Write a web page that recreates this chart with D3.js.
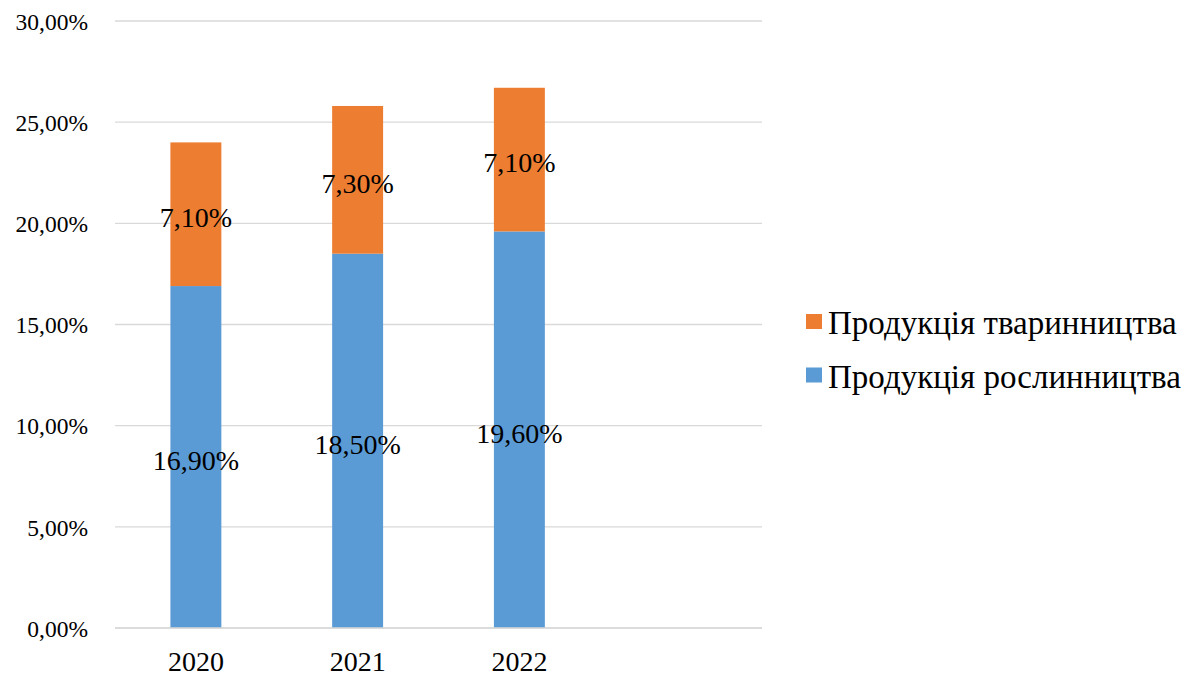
<!DOCTYPE html>
<html><head><meta charset="utf-8">
<script src="https://cdn.jsdelivr.net/npm/d3@7"></script>
</head><body><svg id="c" width="1187" height="677"></svg>
<script>
const categories = ["2020","2021","2022",""];
const plantValues = [16.9, 18.5, 19.6];
const animalValues = [7.1, 7.3, 7.1];
const seriesNames = ["Продукція рослинництва","Продукція тваринництва"];
const seriesColors = ["#5B9BD5","#ED7D31"];
const yTicks = [0,5,10,15,20,25,30];

d3.select("body").style("margin","0px");
const svg = d3.select("#c").style("display","block");
const serifFont = "Liberation Serif, Times New Roman, serif";
const x = d3.scaleBand().domain(categories).range([115,762]).paddingInner(0.685).paddingOuter(0.3425);
const y = d3.scaleLinear().domain([0,30]).range([628,21]);
const fmt = v => v.toFixed(2).replace(".", ",") + "%";

// gridlines
svg.append("g").selectAll("line").data(yTicks).join("line")
  .attr("x1",115).attr("x2",762).attr("y1",d=>y(d)).attr("y2",d=>y(d))
  .attr("stroke","#D9D9D9").attr("stroke-width",1.3);

// y axis labels
const yAxis = svg.append("g").attr("transform","translate(88,0)")
  .call(d3.axisLeft(y).tickValues(yTicks).tickFormat(fmt).tickSize(0).tickPadding(0));
yAxis.attr("font-family",null).attr("font-size",null);
yAxis.select(".domain").remove();
yAxis.selectAll("text").style("font-family",serifFont).style("font-size","23.5px").attr("fill","#000").attr("dy","0.35em");

// x axis labels
const xAxis = svg.append("g").attr("transform","translate(0,628)")
  .call(d3.axisBottom(x).tickValues(["2020","2021","2022"]).tickSize(0).tickPadding(23));
xAxis.attr("font-family",null).attr("font-size",null);
xAxis.select(".domain").remove();
xAxis.selectAll("text").style("font-family",serifFont).style("font-size","28px").attr("fill","#000");

const data = categories.slice(0,3).map((c,i)=>({cat:c, plant:plantValues[i], animal:animalValues[i]}));
const stack = d3.stack().keys(["plant","animal"])(data);

const g = svg.append("g");
stack.forEach((layer,li)=>{
  g.append("g").selectAll("rect").data(layer).join("rect")
    .attr("x",d=>x(d.data.cat)).attr("width",x.bandwidth())
    .attr("y",d=>y(d[1])).attr("height",d=>y(d[0])-y(d[1]))
    .attr("fill",seriesColors[li]);
});
stack.forEach((layer,li)=>{
  g.append("g").selectAll("text").data(layer).join("text")
    .attr("x",d=>x(d.data.cat)+x.bandwidth()/2)
    .attr("y",d=>(y(d[0])+y(d[1]))/2+3)
    .attr("dy","0.35em").attr("text-anchor","middle")
    .style("font-family",serifFont).style("font-size","28px").attr("fill","#000")
    .text(d=>fmt(d[1]-d[0]));
});

// axis baseline
svg.append("line").attr("x1",115).attr("x2",762).attr("y1",y(0)).attr("y2",y(0))
  .attr("stroke","#D9D9D9").attr("stroke-width",1.3);

// legend
const legendItems = [{name:seriesNames[1],color:seriesColors[1]},{name:seriesNames[0],color:seriesColors[0]}];
const lg = svg.append("g");
legendItems.forEach((d,i)=>{
  const cy = 321.5 + i*53.5;
  lg.append("rect").attr("x",806).attr("y",cy-7.5).attr("width",16).attr("height",15).attr("fill",d.color);
  lg.append("text").attr("x",828).attr("y",cy+1).attr("dy","0.35em")
    .style("font-family",serifFont).style("font-size","33px").attr("fill","#000").text(d.name);
});
</script></body></html>
